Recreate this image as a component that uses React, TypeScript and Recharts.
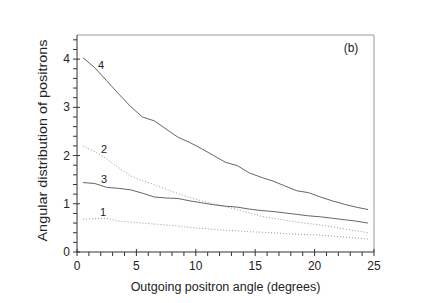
import React from "react";
import { LineChart, Line, XAxis, YAxis, ReferenceLine, ReferenceDot, Label } from "recharts";

const angles = [0.5, 1.5, 2.5, 3.5, 4.5, 5.5, 6.5, 7.5, 8.5, 9.5, 10.5, 11.5, 12.5, 13.5, 14.5, 15.5, 16.5, 17.5, 18.5, 19.5, 20.5, 21.5, 22.5, 23.5, 24.5];
const curve1 = [0.68, 0.69, 0.70, 0.64, 0.62, 0.60, 0.58, 0.56, 0.54, 0.51, 0.49, 0.47, 0.45, 0.44, 0.42, 0.41, 0.40, 0.38, 0.37, 0.36, 0.35, 0.33, 0.31, 0.29, 0.27];
const curve2 = [2.20, 2.08, 1.93, 1.75, 1.58, 1.48, 1.40, 1.30, 1.21, 1.13, 1.06, 1.00, 0.94, 0.88, 0.81, 0.74, 0.70, 0.66, 0.62, 0.59, 0.56, 0.52, 0.48, 0.44, 0.40];
const curve3 = [1.44, 1.42, 1.34, 1.32, 1.29, 1.22, 1.14, 1.12, 1.11, 1.06, 1.02, 0.98, 0.95, 0.93, 0.89, 0.86, 0.84, 0.81, 0.78, 0.75, 0.73, 0.70, 0.67, 0.64, 0.60];
const curve4 = [4.03, 3.82, 3.55, 3.28, 3.02, 2.80, 2.72, 2.55, 2.38, 2.27, 2.14, 2.00, 1.86, 1.79, 1.64, 1.55, 1.47, 1.37, 1.27, 1.23, 1.14, 1.06, 0.99, 0.93, 0.88];

const xTicks = [0, 1, 2, 3, 4, 5, 6, 7, 8, 9, 10, 11, 12, 13, 14, 15, 16, 17, 18, 19, 20, 21, 22, 23, 24, 25];
const yTicks = [0, 0.2, 0.4, 0.6, 0.8, 1, 1.2, 1.4, 1.6, 1.8, 2, 2.2, 2.4, 2.6, 2.8, 3, 3.2, 3.4, 3.6, 3.8, 4, 4.2, 4.4];

const curveLabels = [
  { name: "4", x: 2.0, y: 3.88 },
  { name: "2", x: 2.3, y: 2.13 },
  { name: "3", x: 2.3, y: 1.51 },
  { name: "1", x: 2.2, y: 0.82 },
];
const panelLabel = { name: "(b)", x: 23.1, y: 4.24 };

const data = angles.map((a, i) => ({ a, c1: curve1[i], c2: curve2[i], c3: curve3[i], c4: curve4[i] }));

const FONT = "'Liberation Sans', Arial, Helvetica, sans-serif";
const AXIS = "#333";

const XTick = (props: any) => {
  const { x, y, payload } = props;
  const v = payload.value;
  const major = v % 5 === 0;
  return (
    <g>
      <line x1={x} x2={x} y1={major ? y - 3 : y} y2={y + 4} stroke={AXIS} strokeWidth={1} />
      {major && (
        <text x={x} y={y + 18} textAnchor="middle" fontSize={12} fontFamily={FONT} fill="#222">
          {v}
        </text>
      )}
    </g>
  );
};

const YTick = (props: any) => {
  const { x, y, payload } = props;
  const v = payload.value;
  const major = Math.abs(v - Math.round(v)) < 1e-6;
  return (
    <g>
      <line x1={x - 4} x2={major ? x + 3 : x} y1={y} y2={y} stroke={AXIS} strokeWidth={1} />
      {major && (
        <text x={x - 7} y={y + 4} textAnchor="end" fontSize={12} fontFamily={FONT} fill="#222">
          {Math.round(v)}
        </text>
      )}
    </g>
  );
};

const textLabel = (txt: string, size = 11) => (props: any) => {
  const { viewBox } = props;
  const cx = Math.round(viewBox.x + (viewBox.width || 0) / 2);
  const cy = Math.round(viewBox.y + (viewBox.height || 0) / 2);
  return (
    <text x={cx} y={cy + 4} textAnchor="middle" fontSize={size} fontFamily={FONT} fill="#222" stroke="none">
      {txt}
    </text>
  );
};

export default function App() {
  return (
    <div style={{ position: "fixed", left: 0, top: 0, width: 434, height: 303, background: "#fff" }}>
      <LineChart width={434} height={303} data={data} margin={{ top: 35, right: 60, bottom: 21, left: 47 }}>
        <XAxis
          dataKey="a"
          type="number"
          domain={[0, 25]}
          ticks={xTicks}
          interval={0}
          tick={<XTick />}
          tickSize={0}
          tickMargin={0}
          tickLine={false}
          height={30}
          axisLine={{ stroke: AXIS }}
        >
          <Label
            content={(p: any) => (
              <text x={p.viewBox.x + p.viewBox.width / 2} y={p.viewBox.y + 39} textAnchor="middle" fontSize={12.5} fontFamily={FONT} fill="#222">
                Outgoing positron angle (degrees)
              </text>
            )}
          />
        </XAxis>
        <YAxis
          type="number"
          domain={[0, 4.5]}
          ticks={yTicks}
          interval={0}
          tick={<YTick />}
          tickSize={0}
          tickMargin={0}
          tickLine={false}
          width={30}
          axisLine={{ stroke: AXIS }}
        >
          <Label
            content={(p: any) => {
              const cx = p.viewBox.x + p.viewBox.width - 30;
              const cy = p.viewBox.y + p.viewBox.height / 2 - 3;
              return (
                <text
                  x={cx}
                  y={cy}
                  transform={`rotate(-90 ${cx} ${cy})`}
                  textAnchor="middle"
                  fontSize={12.5}
                  fontFamily={FONT}
                  fill="#222"
                  textLength={202}
                  lengthAdjust="spacingAndGlyphs"
                >
                  Angular distribution of positrons
                </text>
              );
            }}
          />
        </YAxis>
        <ReferenceLine y={4.5} stroke="#999" strokeWidth={1} />
        <ReferenceLine x={25} stroke="#999" strokeWidth={1} />
        <Line dataKey="c1" type="linear" stroke="#999" strokeWidth={1} strokeDasharray="1 2" dot={false} isAnimationActive={false} />
        <Line dataKey="c2" type="linear" stroke="#999" strokeWidth={1} strokeDasharray="1 2" dot={false} isAnimationActive={false} />
        <Line dataKey="c3" type="linear" stroke="#666" strokeWidth={1} dot={false} isAnimationActive={false} />
        <Line dataKey="c4" type="linear" stroke="#666" strokeWidth={1} dot={false} isAnimationActive={false} />
        {curveLabels.map((l) => (
          <ReferenceDot key={l.name} x={l.x} y={l.y} r={0} fill="none" stroke="none" label={textLabel(l.name, 11)} />
        ))}
        <ReferenceDot x={panelLabel.x} y={panelLabel.y} r={0} fill="none" stroke="none" label={textLabel(panelLabel.name, 12)} />
      </LineChart>
    </div>
  );
}
